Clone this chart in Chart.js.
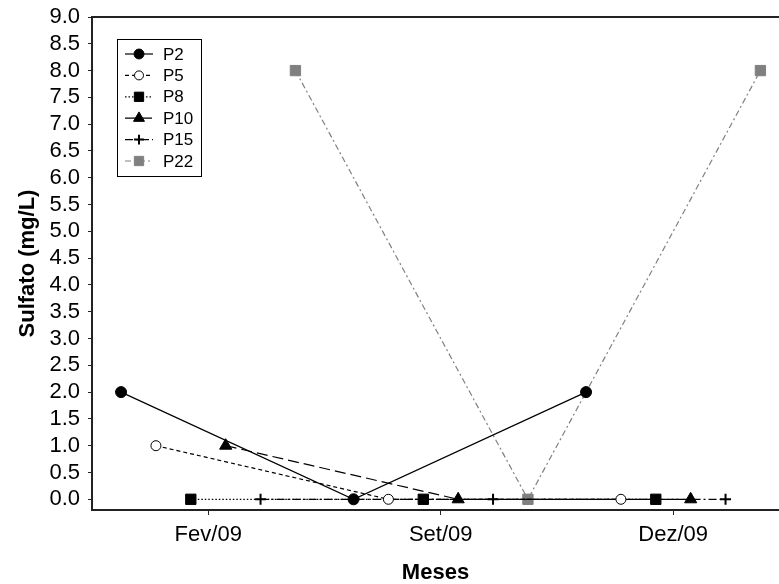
<!DOCTYPE html>
<html>
<head>
<meta charset="utf-8">
<script src="https://cdn.jsdelivr.net/npm/chart.js@4/dist/chart.umd.min.js"></script>
<style>
  html, body { margin: 0; padding: 0; background: #fff; overflow: hidden; }
  #wrap { width: 779px; height: 584px; }
</style>
</head>
<body>
<div id="wrap"><canvas id="c" width="779" height="584"></canvas></div>
<script>
// Months sampled
const meses = ['Fev/09', 'Set/09', 'Dez/09'];

// Sulfate concentration (mg/L) per sampling point
const pontos = ['P2', 'P5', 'P8', 'P10', 'P15', 'P22'];
const p2  = [2, 0, 2];
const p5  = [1, 0, 0];
const p8  = [0, 0, 0];
const p10 = [1, 0, 0];
const p15 = [0, 0, 0];
const p22 = [8, 0, 8];

// Y tick labels
const yTicks = [0, 0.5, 1, 1.5, 2, 2.5, 3, 3.5, 4, 4.5, 5, 5.5, 6, 6.5, 7, 7.5, 8, 8.5, 9];

const series = [p2, p5, p8, p10, p15, p22];

// Visual style per sampling point
const estilos = [
  { color: '#000', dash: [],              style: 'circle',   radius: 5.5, fill: '#000', bw: 1 },
  { color: '#000', dash: [4, 3],          style: 'circle',   radius: 5,   fill: '#fff', bw: 1 },
  { color: '#000', dash: [1.5, 2],        style: 'rect',     radius: 7.3, fill: '#000', bw: 1 },
  { color: '#000', dash: [11, 5],         style: 'triangle', radius: 7,   fill: '#000', bw: 1 },
  { color: '#000', dash: [8, 3, 2, 3],    style: 'cross',    radius: 5.5, fill: '#000', bw: 2 },
  { color: '#808080', dash: [6, 3, 2, 3], style: 'rect',     radius: 7.3, fill: '#808080', bw: 1 }
];

// Each point series is shifted within its month group
const passo = 0.15;
const n = series.length;

const datasets = series.map((vals, i) => {
  const st = estilos[i];
  return {
    label: pontos[i],
    data: vals.map((v, m) => ({ x: m + (i - (n - 1) / 2) * passo, y: v })),
    borderColor: st.color,
    borderWidth: 1.2,
    borderDash: st.dash,
    pointStyle: st.style,
    pointRadius: st.radius,
    pointHoverRadius: st.radius,
    pointBackgroundColor: st.fill,
    pointBorderColor: st.color,
    pointBorderWidth: st.bw,
    tension: 0,
    fill: false
  };
});

const fonte = "'Liberation Sans', Arial, sans-serif";

// Top frame line
const molduraTopo = {
  id: 'molduraTopo',
  afterDraw(chart) {
    const { ctx, chartArea } = chart;
    ctx.save();
    ctx.strokeStyle = '#222';
    ctx.lineWidth = 2;
    ctx.beginPath();
    ctx.moveTo(chartArea.left - 1, chartArea.top);
    ctx.lineTo(chart.width, chartArea.top);
    ctx.stroke();
    ctx.restore();
  }
};

// Boxed legend with line sample and marker
const legendaCaixa = {
  id: 'legendaCaixa',
  afterDraw(chart) {
    const { ctx } = chart;
    const box = { x: 117, y: 39, w: 84, h: 137 };
    const rowTop = 54, rowGap = 21.4;
    ctx.save();
    ctx.fillStyle = '#fff';
    ctx.fillRect(box.x, box.y, box.w, box.h);
    ctx.strokeStyle = '#000';
    ctx.lineWidth = 1;
    ctx.strokeRect(box.x + 0.5, box.y + 0.5, box.w, box.h);
    chart.data.datasets.forEach((ds, i) => {
      const y = rowTop + i * rowGap;
      ctx.save();
      ctx.strokeStyle = ds.borderColor;
      ctx.lineWidth = ds.borderWidth;
      ctx.setLineDash(ds.borderDash);
      ctx.beginPath();
      ctx.moveTo(125, y);
      ctx.lineTo(153, y);
      ctx.stroke();
      ctx.restore();
      ctx.save();
      ctx.fillStyle = ds.pointBackgroundColor;
      ctx.strokeStyle = ds.pointBorderColor;
      ctx.lineWidth = ds.pointBorderWidth;
      Chart.helpers.drawPoint(ctx, {
        pointStyle: ds.pointStyle,
        radius: ds.pointRadius * 0.9,
        rotation: 0,
        borderWidth: ds.pointBorderWidth
      }, 139, y);
      ctx.restore();
      ctx.fillStyle = '#000';
      ctx.font = '17px ' + fonte;
      ctx.textBaseline = 'middle';
      ctx.textAlign = 'left';
      ctx.fillText(ds.label, 163, y + 1);
    });
    ctx.restore();
  }
};

new Chart(document.getElementById('c'), {
  type: 'line',
  data: { datasets },
  options: {
    responsive: false,
    devicePixelRatio: 1,
    animation: false,
    events: [],
    layout: { autoPadding: false, padding: { top: 17, right: 0, left: 0, bottom: 0 } },
    plugins: { legend: { display: false }, tooltip: { enabled: false } },
    scales: {
      x: {
        type: 'linear',
        min: -0.5,
        max: 2.455,
        afterFit(s) { s.height = 74; s.paddingLeft = 0; s.paddingRight = 0; },
        afterBuildTicks(s) { s.ticks = meses.map((_, i) => ({ value: i })); },
        ticks: {
          autoSkip: false,
          maxRotation: 0,
          padding: 7,
          color: '#000',
          font: { family: fonte, size: 22 },
          callback: (v) => meses[v]
        },
        grid: { drawOnChartArea: false, drawTicks: true, tickLength: 5, color: '#222', tickWidth: 1 },
        border: { display: true, color: '#222', width: 2 },
        title: {
          display: true,
          text: 'Meses',
          color: '#000',
          font: { family: fonte, size: 22, weight: 'bold', lineHeight: 1 },
          padding: { top: 0, bottom: 0 }
        }
      },
      y: {
        min: -0.2,
        max: 9,
        afterFit(s) { s.width = 92; s.paddingTop = 0; s.paddingBottom = 0; },
        afterBuildTicks(s) { s.ticks = yTicks.map(v => ({ value: v })); },
        ticks: {
          autoSkip: false,
          padding: 8,
          color: '#000',
          font: { family: fonte, size: 22 },
          callback: (v) => v.toFixed(1)
        },
        grid: { drawOnChartArea: false, drawTicks: true, tickLength: 4, color: '#222', tickWidth: 1 },
        border: { display: true, color: '#222', width: 2 },
        title: {
          display: true,
          text: 'Sulfato (mg/L)',
          color: '#000',
          font: { family: fonte, size: 22, weight: 'bold', lineHeight: 1 },
          padding: { top: 17, bottom: 0 }
        }
      }
    }
  },
  plugins: [molduraTopo, legendaCaixa]
});
</script>
</body>
</html>
